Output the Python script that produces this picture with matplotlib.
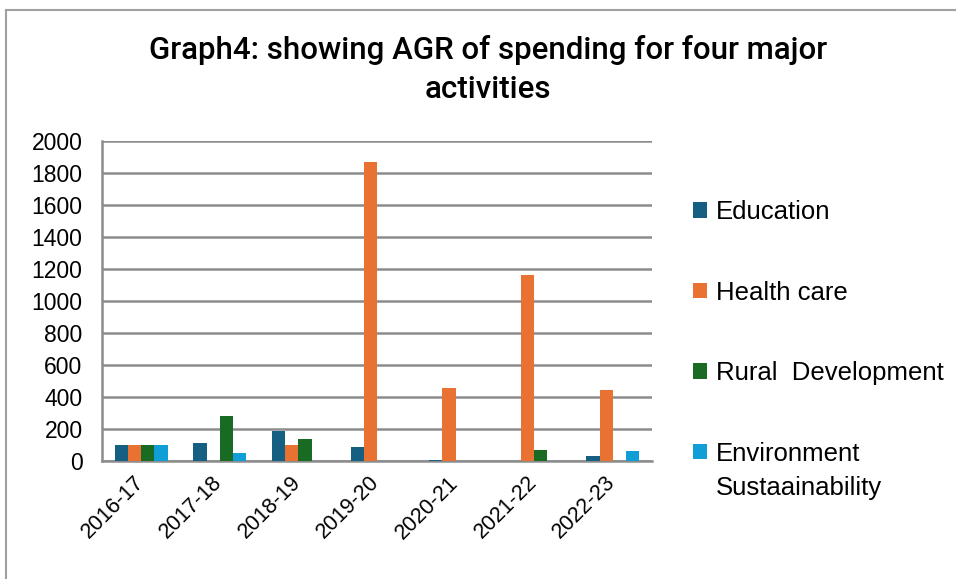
import numpy as np
import matplotlib.pyplot as plt
from matplotlib.lines import Line2D
from matplotlib.transforms import ScaledTranslation

years = ['2016-17', '2017-18', '2018-19', '2019-20', '2020-21', '2021-22', '2022-23']
education = [100, 115, 185, 88, 9, 0, 30]
health = [100, 0, 100, 1868, 455, 1165, 445]
rural = [100, 280, 140, 0, 0, 70, 0]
environment = [100, 50, 0, 0, 0, 0, 65]

series = [education, health, rural, environment]
names = ['Education', 'Health care', 'Rural  Development', 'Environment']
colors = ['#156082', '#e97132', '#196b24', '#0f9ed5']

plt.rcParams['font.family'] = ['Liberation Sans', 'DejaVu Sans']

fig = plt.figure(figsize=(9.56, 5.79), dpi=100)
ax = fig.add_axes([102/956, 1 - 461/579, 550/956, 320/579])

x = np.arange(len(years))
w = 0.168
for i, (vals, name, c) in enumerate(zip(series, names, colors)):
    ax.bar(x + (i - 1.5) * w, vals, w, color=c, label=name, zorder=3)

ax.set_xlim(-0.5, len(years) - 0.5)
ax.set_ylim(0, 2000)
ax.set_yticks(range(0, 2001, 200))
ax.set_xticks(x)
ax.set_xticklabels(years, rotation=45, ha='right', rotation_mode='anchor')
ax.tick_params(axis='y', labelsize=16.5, length=0, pad=14)
ax.tick_params(axis='x', labelsize=15.5, length=0, pad=8)
shift = ScaledTranslation(-8/100, 0, fig.dpi_scale_trans)
for lbl in ax.get_xticklabels():
    lbl.set_transform(lbl.get_transform() + shift)
ax.grid(axis='y', color='#8c8c8c', lw=1.8, zorder=0)
for s in ['top', 'right']:
    ax.spines[s].set_visible(False)
for s in ['left', 'bottom']:
    ax.spines[s].set_color('#8c8c8c')
    ax.spines[s].set_linewidth(1.8)

title_font = ['Roboto', 'DejaVu Sans']
fig.text(488/956, 1 - 50/579, 'Graph4: showing AGR of spending for four major',
         ha='center', va='center', fontsize=22.5, fontweight='medium', family=title_font)
fig.text(488/956, 1 - 89/579, 'activities',
         ha='center', va='center', fontsize=22.5, fontweight='medium', family=title_font)

leg = fig.legend(loc='upper left', bbox_to_anchor=(693/956, 1 - 200/579), frameon=False,
                 fontsize=18.5, handlelength=0.55, handleheight=0.55, handletextpad=0.35,
                 labelspacing=2.2, borderaxespad=0, borderpad=0)

# second line of the last legend label
fig.canvas.draw()
last = leg.get_texts()[-1].get_window_extent()
fig.text(last.x0 / 956, (last.y0 - 10) / 579, 'Sustaainability',
         ha='left', va='top', fontsize=18.5)

# frame of the chart area
fig.add_artist(Line2D([6/956, 6/956], [0, 1 - 10/579], color='#a0a0a0', lw=1.5))
fig.add_artist(Line2D([6/956, 1], [1 - 10/579, 1 - 10/579], color='#a0a0a0', lw=1.5))

fig.savefig('out.png', dpi=100)
